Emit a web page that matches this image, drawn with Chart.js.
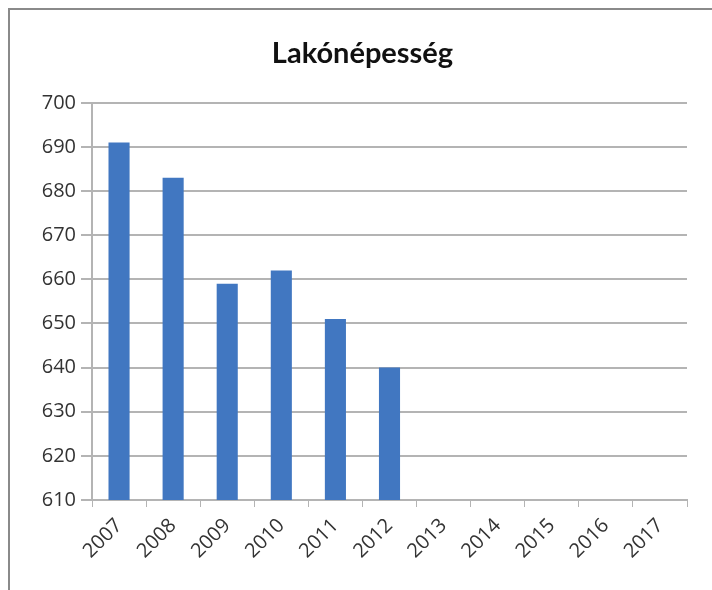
<!DOCTYPE html>
<html>
<head>
<meta charset="utf-8">
<script src="https://cdn.jsdelivr.net/npm/chart.js@4"></script>
<style>
    body { margin: 0; background: #fff; }
    #wrap { position: relative; width: 712px; height: 590px; }
    #frame {
        position: absolute; left: 8px; top: 8px; width: 710px; height: 590px;
        border-top: 2px solid #8a8a8a; border-left: 2px solid #8a8a8a;
    }
    canvas { position: absolute; left: 0; top: 0; }
</style>
</head>
<body>
<div id="wrap">
    <div id="frame"></div>
    <canvas id="chart" width="712" height="590"></canvas>
</div>
<script>
// Adatok
const years = ['2007', '2008', '2009', '2010', '2011', '2012', '2013', '2014', '2015', '2016', '2017'];
const population = [691, 683, 659, 662, 651, 640, null, null, null, null, null];
const yMin = 610;
const yMax = 700;
const yStep = 10;

const tickFont = { family: 'Open Sans', size: 20 };
const tickColor = '#333';
const gridColor = '#b4b4b4';

const ctx = document.getElementById('chart').getContext('2d');
new Chart(ctx, {
    type: 'bar',
    data: {
        labels: years,
        datasets: [{
            label: 'Lakónépesség',
            data: population,
            backgroundColor: '#4177c1',
            borderWidth: 0,
            barPercentage: 0.39,
            categoryPercentage: 1
        }]
    },
    options: {
        responsive: false,
        animation: false,
        layout: { padding: { left: 38, right: 25, top: 34, bottom: 0 } },
        plugins: {
            legend: { display: false },
            tooltip: { enabled: false },
            title: {
                display: true,
                text: 'Lakónépesség',
                color: '#111',
                font: { family: 'Lato', size: 29, weight: 'bold' },
                padding: { top: 2, bottom: 32 }
            }
        },
        scales: {
            x: {
                afterFit: function(scale) { scale.height = 90; },
                grid: {
                    offset: true,
                    drawOnChartArea: false,
                    drawTicks: true,
                    tickLength: 7,
                    color: gridColor
                },
                border: { display: true, color: gridColor, width: 2 },
                ticks: {
                    autoSkip: false,
                    maxRotation: 45,
                    minRotation: 45,
                    padding: 7,
                    color: tickColor,
                    font: tickFont
                }
            },
            y: {
                min: yMin,
                max: yMax,
                afterFit: function(scale) { scale.width = 54; },
                grid: {
                    color: gridColor,
                    lineWidth: 2,
                    tickLength: 11
                },
                border: { display: true, color: gridColor, width: 2 },
                ticks: {
                    stepSize: yStep,
                    padding: 5,
                    color: tickColor,
                    font: tickFont
                }
            }
        }
    }
});
</script>
</body>
</html>
